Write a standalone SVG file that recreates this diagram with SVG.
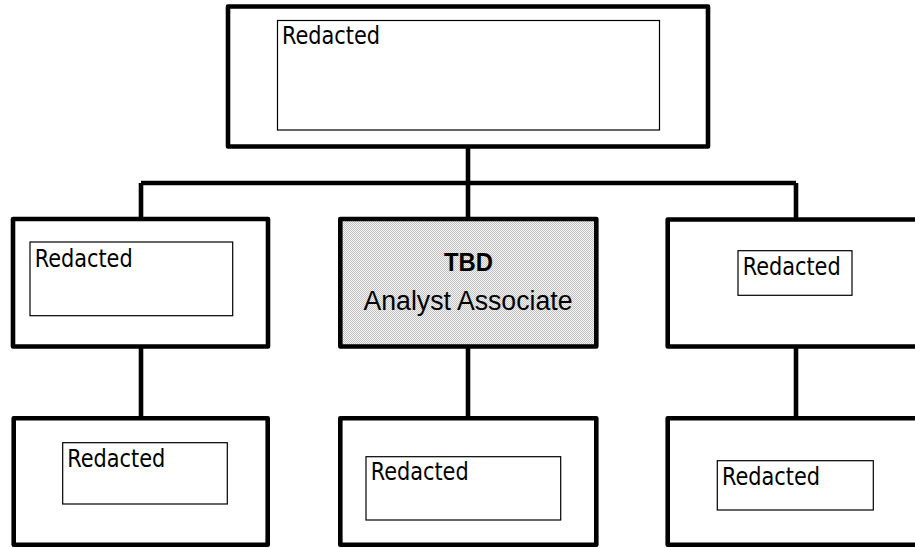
<svg xmlns="http://www.w3.org/2000/svg" width="915" height="548" viewBox="0 0 915 548">
<defs>
<pattern id="dither" width="2" height="2" patternUnits="userSpaceOnUse">
<rect width="2" height="2" fill="#f4f4f4"/>
<rect width="1" height="1" fill="#c2c2c2"/>
<rect x="1" y="1" width="1" height="1" fill="#c2c2c2"/>
</pattern>
</defs>
<style>
.outer{fill:#fff;stroke:#000;stroke-width:4.6;stroke-linejoin:round}
.shaded{fill:url(#dither)}
.inner{fill:#fff;stroke:#000;stroke-width:1.2}
.conn{fill:none;stroke:#000;stroke-width:4.6}
.lbl{font-family:"DejaVu Sans Condensed","DejaVu Sans",sans-serif;font-size:24px;fill:#000}
.ctr{font-family:"Liberation Sans",Arial,sans-serif;fill:#000;text-anchor:middle}
</style>
<rect width="915" height="548" fill="#fff"/>
<g id="connectors">
<line class="conn" x1="468" y1="146" x2="468" y2="219"/>
<line class="conn" x1="141" y1="183" x2="796" y2="183"/>
<line class="conn" x1="141" y1="183" x2="141" y2="219"/>
<line class="conn" x1="796" y1="183" x2="796" y2="219"/>
<line class="conn" x1="141" y1="346" x2="141" y2="418"/>
<line class="conn" x1="468" y1="346" x2="468" y2="418"/>
<line class="conn" x1="796" y1="346" x2="796" y2="418"/>
</g>
<g id="top">
<rect class="outer" x="228" y="6.5" width="480" height="140"/>
<rect class="inner" x="277.5" y="20.5" width="382" height="109.5"/>
<text class="lbl" x="282" y="44" textLength="98" lengthAdjust="spacingAndGlyphs">Redacted</text>
</g>
<g id="mid-left">
<rect class="outer" x="13" y="219" width="255" height="127.5"/>
<rect class="inner" x="30" y="242" width="202.7" height="73.7"/>
<text class="lbl" x="34.7" y="266.7" textLength="98" lengthAdjust="spacingAndGlyphs">Redacted</text>
</g>
<g id="mid-center">
<rect class="outer shaded" x="340.3" y="219" width="256" height="127.5"/>
<text class="ctr" x="468.5" y="271" font-size="25" font-weight="bold" textLength="49" lengthAdjust="spacingAndGlyphs">TBD</text>
<text class="ctr" x="468" y="310" font-size="27" textLength="209" lengthAdjust="spacingAndGlyphs">Analyst Associate</text>
</g>
<g id="mid-right">
<rect class="outer" x="667.7" y="219.5" width="260" height="127"/>
<rect class="inner" x="738" y="250.7" width="114" height="44.6"/>
<text class="lbl" x="742.7" y="274.7" textLength="98" lengthAdjust="spacingAndGlyphs">Redacted</text>
</g>
<g id="bot-left">
<rect class="outer" x="13.7" y="418.3" width="254" height="126.5"/>
<rect class="inner" x="62.7" y="442.7" width="164.6" height="61.3"/>
<text class="lbl" x="67.3" y="466.7" textLength="98" lengthAdjust="spacingAndGlyphs">Redacted</text>
</g>
<g id="bot-center">
<rect class="outer" x="340.3" y="418.3" width="256" height="126.5"/>
<rect class="inner" x="366" y="456.7" width="194.7" height="63.3"/>
<text class="lbl" x="370.7" y="480" textLength="98" lengthAdjust="spacingAndGlyphs">Redacted</text>
</g>
<g id="bot-right">
<rect class="outer" x="667.7" y="418.3" width="260" height="126.5"/>
<rect class="inner" x="717.3" y="460.7" width="156" height="49.3"/>
<text class="lbl" x="722" y="484.7" textLength="98" lengthAdjust="spacingAndGlyphs">Redacted</text>
</g>
</svg>
